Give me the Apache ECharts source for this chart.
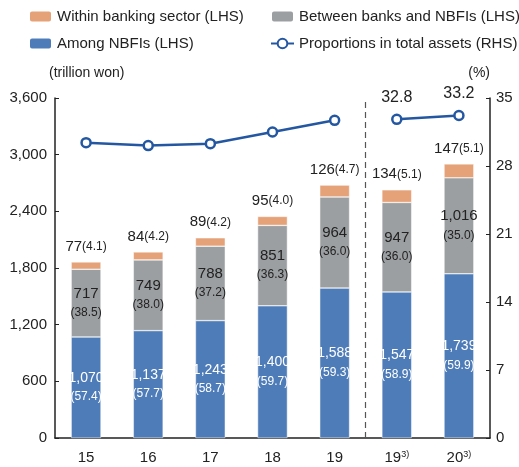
<!DOCTYPE html>
<html>
<head>
<meta charset="utf-8">
<script src="https://cdn.jsdelivr.net/npm/echarts@6/dist/echarts.min.js"></script>
<style>
  html, body { margin: 0; padding: 0; background: #fff; }
  #chart { width: 519px; height: 467px; }
</style>
</head>
<body>
<div id="chart"></div>
<script>
// categories (19, 20 with footnote 3 are on the new basis)
var categories = ['15', '16', '17', '18', '19', '19{sup|3)}', '20{sup|3)}'];

// trillion won
var amongNBFIs = [1070, 1137, 1243, 1400, 1588, 1547, 1739];
var betweenBanks = [717, 749, 788, 851, 964, 947, 1016];
var withinBanking = [77, 84, 89, 95, 126, 134, 147];

// shares in %
var amongShare = ['57.4', '57.7', '58.7', '59.7', '59.3', '58.9', '59.9'];
var betweenShare = ['38.5', '38.0', '37.2', '36.3', '36.0', '36.0', '35.0'];
var withinShare = ['4.1', '4.2', '4.2', '4.0', '4.7', '5.1', '5.1'];

// proportions in total assets (RHS), old basis / new basis
var proportionOld = [30.4, 30.1, 30.3, 31.5, 32.7, null, null];
var proportionNew = [null, null, null, null, null, 32.8, 33.2];

var FONT = 'Liberation Sans, Arial, sans-serif';
var ORANGE = '#E5A178', GRAY = '#9C9FA1', BLUE = '#4E7CB8', LINE = '#2457A1';

function fmt(v) {
    return v.toString().replace(/\B(?=(\d{3})+(?!\d))/g, ',');
}

var myChart = echarts.init(document.getElementById('chart'));

var option = {
    backgroundColor: '#fff',
    textStyle: { fontFamily: FONT, color: '#222' },
    animation: false,
    legend: [
        {
            left: 23, top: 4, orient: 'vertical', itemGap: 12,
            itemWidth: 23, itemHeight: 12,
            textStyle: { fontSize: 15, color: '#222', fontFamily: FONT },
            data: ['Within banking sector (LHS)', 'Among NBFIs (LHS)']
        },
        {
            left: 265, top: 4, orient: 'vertical', itemGap: 12,
            itemWidth: 23, itemHeight: 12,
            textStyle: { fontSize: 15, color: '#222', fontFamily: FONT },
            data: ['Between banks and NBFIs (LHS)', 'Proportions in total assets (RHS)']
        }
    ],
    grid: { left: 55, right: 29, top: 98, bottom: 29 },
    xAxis: [
        {
            type: 'category',
            data: categories,
            axisLine: { lineStyle: { color: '#222', width: 1.5 } },
            axisTick: { inside: true, length: 5, lineStyle: { color: '#222' } },
            axisLabel: {
                interval: 0, fontSize: 15, color: '#222', margin: 12,
                rich: { sup: { fontSize: 9, verticalAlign: 'top', padding: [0, 0, 6, 0] } }
            }
        },
        { type: 'value', min: -0.5, max: 6.5, show: false }
    ],
    yAxis: [
        {
            type: 'value', min: 0, max: 3600, interval: 600,
            name: '(trillion won)', nameLocation: 'end', nameGap: 18,
            nameTextStyle: { fontSize: 14, color: '#222', align: 'left', padding: [0, 0, 0, -6] },
            axisLine: { show: true, onZero: false, lineStyle: { color: '#222', width: 1.5 } },
            axisTick: { show: true, inside: true, length: 4, lineStyle: { color: '#222' } },
            axisLabel: { fontSize: 15, color: '#222', margin: 8, formatter: fmt },
            splitLine: { show: false }
        },
        {
            type: 'value', min: 0, max: 35, interval: 7,
            name: '(%)', nameLocation: 'end', nameGap: 18,
            nameTextStyle: { fontSize: 14, color: '#222', align: 'right', padding: [0, 0, 0, 0] },
            axisLine: { show: true, onZero: false, lineStyle: { color: '#222', width: 1.5 } },
            axisTick: { show: true, inside: true, length: 4, lineStyle: { color: '#222' } },
            axisLabel: { fontSize: 15, color: '#222', margin: 6 },
            splitLine: { show: false }
        }
    ],
    series: [
        {
            name: 'Among NBFIs (LHS)', type: 'bar', stack: 'total', barWidth: '48%',
            itemStyle: { color: BLUE, borderColor: '#fff', borderWidth: 0.5 },
            label: {
                show: true, position: 'inside', color: '#fff', lineHeight: 19, overflow: 'none',
                formatter: function (p) {
                    return '{a|' + fmt(p.value) + '}\n{b|(' + amongShare[p.dataIndex] + ')}';
                },
                rich: {
                    a: { fontSize: 14, color: '#fff' },
                    b: { fontSize: 12, color: '#fff' }
                }
            },
            data: amongNBFIs
        },
        {
            name: 'Between banks and NBFIs (LHS)', type: 'bar', stack: 'total',
            itemStyle: { color: GRAY, borderColor: '#fff', borderWidth: 0.5 },
            label: {
                show: true, position: 'inside', color: '#222', lineHeight: 19, overflow: 'none',
                formatter: function (p) {
                    return '{a|' + fmt(p.value) + '}\n{b|(' + betweenShare[p.dataIndex] + ')}';
                },
                rich: {
                    a: { fontSize: 15, color: '#222' },
                    b: { fontSize: 12, color: '#222' }
                }
            },
            data: betweenBanks
        },
        {
            name: 'Within banking sector (LHS)', type: 'bar', stack: 'total',
            itemStyle: { color: ORANGE, borderColor: '#fff', borderWidth: 0.5 },
            label: {
                show: true, position: 'top', distance: 8,
                formatter: function (p) {
                    return '{a|' + p.value + '}{b|(' + withinShare[p.dataIndex] + ')}';
                },
                rich: {
                    a: { fontSize: 15, color: '#222' },
                    b: { fontSize: 12, color: '#222' }
                }
            },
            data: withinBanking
        },
        {
            name: 'Proportions in total assets (RHS)', type: 'line', yAxisIndex: 1,
            symbol: 'circle', symbolSize: 9,
            itemStyle: { color: '#fff', borderColor: LINE, borderWidth: 2.5 },
            lineStyle: { color: LINE, width: 2.5 },
            data: proportionOld
        },
        {
            name: 'Proportions in total assets (RHS)', type: 'line', yAxisIndex: 1,
            symbol: 'circle', symbolSize: 9,
            itemStyle: { color: '#fff', borderColor: LINE, borderWidth: 2.5 },
            lineStyle: { color: LINE, width: 2.5 },
            label: { show: true, position: 'top', distance: 8, fontSize: 16, color: '#222' },
            data: proportionNew
        },
        {
            // dashed divider between old and new basis
            type: 'line', xAxisIndex: 1, yAxisIndex: 0, data: [],
            markLine: {
                silent: true, symbol: 'none', label: { show: false },
                lineStyle: { color: '#555', type: [6, 4], width: 1.2 },
                data: [{ xAxis: 4.5 }]
            }
        }
    ]
};

myChart.setOption(option);
</script>
</body>
</html>
